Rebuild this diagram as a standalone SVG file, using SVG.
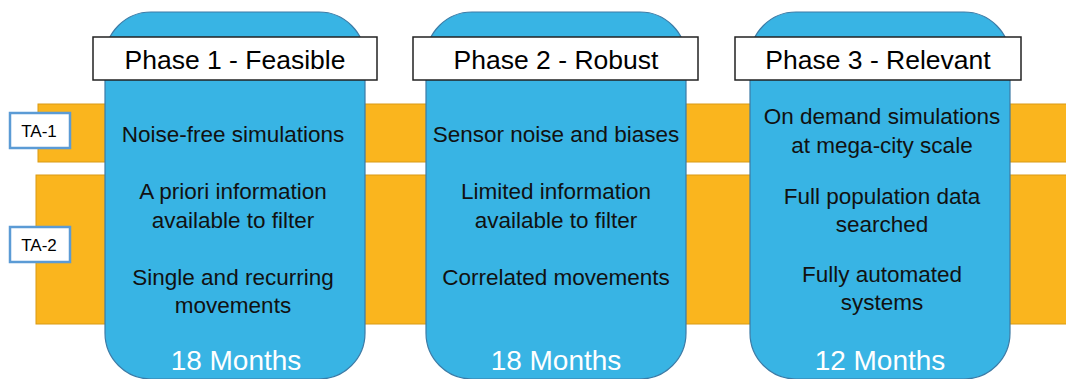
<svg xmlns="http://www.w3.org/2000/svg" width="1066" height="379" viewBox="0 0 1066 379">
<style>
.band{fill:#FAB51E;stroke:#D99A14;stroke-width:1}
.phase{fill:#38B4E4;stroke:#3C7BA6;stroke-width:1.2}
.title{fill:#FFFFFF;stroke:#222222;stroke-width:1.5}
.ta{fill:#FFFFFF;stroke:#5B9BD5;stroke-width:2.5}
text{font-family:"Liberation Sans",Arial,sans-serif;text-anchor:middle}
.tt{font-size:26.5px;fill:#000}
.bt{font-size:22.5px;fill:#111}
.mt{font-size:28px;fill:#FFFFFF}
.lt{font-size:17px;fill:#000}
</style>
<rect width="1066" height="379" fill="#FFFFFF"/>
<g id="bands">
<rect class="band" x="38" y="104" width="1040" height="58"/>
<rect class="band" x="36" y="175" width="1042" height="149"/>
</g>
<g id="ta1">
<rect class="ta" x="10" y="113" width="60" height="35"/>
<text class="lt" x="39" y="137">TA-1</text>
</g>
<g id="ta2">
<rect class="ta" x="10" y="227" width="60" height="35"/>
<text class="lt" x="39" y="251">TA-2</text>
</g>
<g id="phase1">
<rect class="phase" x="105" y="12" width="260" height="367" rx="46" ry="46"/>
<rect class="title" x="93" y="37" width="284" height="43"/>
<text class="tt" x="235" y="69">Phase 1 - Feasible</text>
<text class="bt" x="233" y="142">Noise-free simulations</text>
<text class="bt" x="233" y="199">A priori information</text>
<text class="bt" x="233" y="228">available to filter</text>
<text class="bt" x="233" y="285">Single and recurring</text>
<text class="bt" x="233" y="313">movements</text>
<text class="mt" x="236" y="370">18 Months</text>
</g>
<g id="phase2">
<rect class="phase" x="426" y="12" width="260" height="367" rx="46" ry="46"/>
<rect class="title" x="413" y="37" width="285" height="43"/>
<text class="tt" x="556" y="69">Phase 2 - Robust</text>
<text class="bt" x="556" y="142">Sensor noise and biases</text>
<text class="bt" x="556" y="199">Limited information</text>
<text class="bt" x="556" y="228">available to filter</text>
<text class="bt" x="556" y="285">Correlated movements</text>
<text class="mt" x="556" y="370">18 Months</text>
</g>
<g id="phase3">
<rect class="phase" x="750" y="12" width="260" height="367" rx="46" ry="46"/>
<rect class="title" x="735" y="37" width="286" height="43"/>
<text class="tt" x="878" y="69">Phase 3 - Relevant</text>
<text class="bt" x="882" y="124">On demand simulations</text>
<text class="bt" x="882" y="153">at mega-city scale</text>
<text class="bt" x="882" y="204">Full population data</text>
<text class="bt" x="882" y="232">searched</text>
<text class="bt" x="882" y="282">Fully automated</text>
<text class="bt" x="882" y="310">systems</text>
<text class="mt" x="880" y="370">12 Months</text>
</g>
<g id="connectors"></g>
</svg>
